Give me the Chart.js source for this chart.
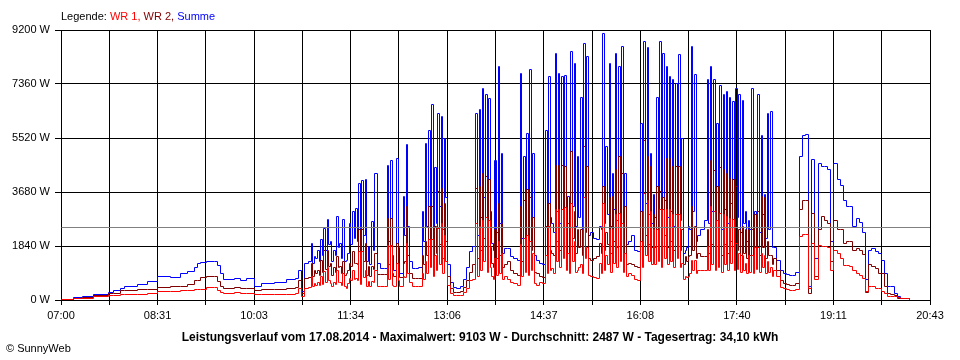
<!DOCTYPE html>
<html>
<head>
<meta charset="utf-8">
<script src="https://cdn.jsdelivr.net/npm/chart.js@4/dist/chart.umd.min.js"></script>
<style>
  body { margin: 0; background: #fff; }
  #wrap { position: relative; width: 960px; height: 360px; font-family: "Liberation Sans", Arial, sans-serif; }
  #chart { position: absolute; left: 0; top: 0; }
  .legende { position: absolute; left: 61px; top: 10px; font-size: 11px; line-height: 13px; color: #000; }
  .caption { position: absolute; left: 0; width: 960px; top: 330px; text-align: center; font-size: 12px; line-height: 14px; font-weight: bold; color: #000; }
  .copy { position: absolute; left: 6px; top: 342px; font-size: 11px; line-height: 13px; color: #000; }
</style>
</head>
<body>
<div id="wrap">
  <canvas id="chart" width="960" height="360"></canvas>
  <div class="legende">Legende: <span style="color:#ff0000">WR 1,</span> <span style="color:#800000">WR 2,</span> <span style="color:#0000ff">Summe</span></div>
  <div class="caption">Leistungsverlauf vom 17.08.2014 - Maximalwert: 9103 W - Durchschnitt: 2487 W - Tagesertrag: 34,10 kWh</div>
  <div class="copy">&copy; SunnyWeb</div>
</div>
<script>
// x tick labels (every second grid line), times are minutes after 07:00
var xLabels = ['07:00', '08:31', '10:03', '11:34', '13:06', '14:37', '16:08', '17:40', '19:11', '20:43'];
var xSpan = 823;      // 07:00 -> 20:43
var yMax = 9200;
var yStep = 1840;
var average = 2487;   // Durchschnitt

var minutes = [
  0, 12, 20, 31, 45, 50, 56, 60, 72, 82, 91, 104, 113, 120, 126, 129, 132, 138, 145, 148, 151, 154, 164, 170, 176, 183, 190, 202, 214, 222,
  225, 228, 231, 234, 237, 238.5, 240, 241.5, 243, 244.5, 246, 247.5, 249, 250.5, 252, 253.5, 255, 256.5, 258, 259.5, 261, 262.5, 264, 265.5, 267, 268.5, 270, 271.5, 273, 274.5, 276, 277.5, 279, 280.5, 282, 283.5, 285, 286.5, 288, 289.5, 291, 292.5, 294, 295.5, 297, 300, 303, 306, 309, 310.5, 312, 313.5, 315, 318, 319.5, 321, 324, 325.5, 327, 328.5, 330, 333, 336, 339,
  342, 343.5, 345, 346.5, 348, 349.5, 351, 352.5, 354, 355.5, 357, 358.5, 360, 361.5, 363, 364.5, 366, 369, 372, 375, 378, 381, 384, 387, 390, 393, 394.5, 396, 397.5, 399, 400.5, 402, 403.5, 405, 406.5, 408, 409.5, 411, 412.5, 414, 415.5, 417, 418.5, 420, 423, 426, 429, 432, 435, 436.5, 438, 439.5, 441, 442.5, 444, 445.5, 447, 448.5, 450, 453, 456, 459, 460.5, 462,
  463.5, 465, 466.5, 468, 469.5, 471, 472.5, 474, 475.5, 477, 478.5, 480, 481.5, 483, 484.5, 486, 487.5, 489, 490.5, 492, 493.5, 495, 496.5, 498, 499.5, 501, 504, 507, 510, 511.5, 513, 514.5, 516, 517.5, 519, 520.5, 522, 523.5, 525, 526.5, 528, 529.5, 531, 532.5, 534, 535.5, 537, 540, 543, 546, 549, 550.5, 552, 553.5, 555, 556.5, 558, 559.5, 561, 562.5, 564, 565.5, 567, 568.5, 570, 571.5, 573, 574.5, 576, 577.5, 579, 580.5, 582, 583.5, 585, 586.5,
  588, 589.5, 591, 592.5, 594, 595.5, 597, 598.5, 600, 601.5, 603, 606, 609, 612, 613.5, 615, 616.5, 618, 619.5, 621, 622.5, 624, 625.5, 627, 628.5, 630, 631.5, 633, 634.5, 636, 637.5, 639, 640.5, 642, 643.5, 645, 646.5, 648, 649.5, 651, 652.5, 654, 655.5, 657, 658.5, 660, 661.5, 663, 664.5, 666, 667.5, 669, 670.5, 672, 673.5, 675, 678, 681, 684, 687, 690, 693, 696, 699, 702, 705, 708,
  711, 714, 717, 720, 723, 726, 729, 732, 735, 738, 741, 744, 747, 750, 753, 756, 759, 762, 765, 768, 771, 774, 777, 780, 783, 786, 789, 792, 795, 798, 801, 804
];

var summe = [
  25, 90, 136, 193, 250, 318, 398, 477, 545, 625, 795, 760, 909, 988, 1113, 1227, 1272, 1318, 1318, 1159, 909, 682, 716, 648, 716, 477, 568, 590, 682, 738,
  1020, 300, 1250, 1300, 1930, 1250, 1480, 1400, 1700, 1300, 2070, 1500, 2420, 1700, 2726, 1900, 1990, 1300, 1700, 1500, 2840, 1800, 1930, 1400, 2750, 1300, 1360, 1600, 2590, 1900, 3010, 2100, 3124, 2000, 3976, 1500, 4067, 2200, 4100, 1300, 1820, 1200, 2670, 1700, 4294, 1250, 1080, 1080, 4600, 2000, 4737, 1500, 1022, 4828, 1800, 900, 3520, 2200, 5282, 2500, 1300, 1080, 1080, 1100,
  3000, 2000, 5340, 2500, 5790, 3000, 6645, 2200, 4500, 2600, 6360, 3200, 6250, 2400, 5500, 3500, 1200, 600, 420, 400, 470, 700, 1100, 1650, 1820, 6360, 2200, 6500, 2800, 7213, 3500, 7000, 2600, 6870, 3000, 1930, 1700, 4770, 2300, 7950, 2600, 5000, 1600, 1760, 1760, 1477, 1400, 1360, 7725, 2100, 4885, 2600, 5680, 2300, 7840, 2800, 5000, 1500, 1360, 1250, 1200, 5790, 2400, 7610,
  2800, 2600, 2300, 8400, 3000, 7725, 2600, 7610, 3400, 7650, 2500, 3520, 2300, 8460, 3200, 8060, 2500, 4900, 2800, 6900, 2400, 8750, 3600, 8300, 2200, 2300, 2100, 2045, 2500, 2400, 9090, 2600, 5225, 2900, 8060, 2500, 4300, 3100, 8400, 2700, 7950, 3300, 8630, 2500, 4300, 1900, 2000, 2200, 1700, 1650, 6000, 2600, 8800, 3300, 8600, 2900, 5000, 2600, 3600, 2800, 6900, 3100, 8800, 2600, 8400, 3400, 7950, 2800, 7600, 3000, 7500, 2500, 7384, 3300, 8350, 2700,
  5500, 1600, 1700, 1800, 2500, 2400, 8630, 3000, 7700, 2000, 2200, 2400, 2700, 7500, 2600, 7950, 3000, 7500, 2500, 6000, 2900, 7300, 2400, 6990, 3100, 7100, 2600, 6900, 3300, 6760, 2500, 7213, 2800, 7000, 2300, 6800, 2600, 3000, 2000, 2700, 2400, 7213, 2200, 3000, 2700, 7000, 2300, 5600, 2900, 3600, 2100, 6360, 2400, 6420, 1800, 1800, 1360, 1000, 900, 870, 850, 850, 950, 4885, 5620, 5650, 455,
  4800, 1400, 4650, 4540, 4540, 4430, 2000, 4650, 4090, 3900, 3400, 3180, 3180, 2500, 2780, 2640, 2300, 700, 1700, 1760, 1650, 1600, 1360, 900, 450, 455, 227, 114, 57, 57, 40, 0
];

var wr2 = [
  25, 60, 90, 170, 227, 227, 307, 307, 363, 363, 431, 454, 477, 534, 680, 680, 773, 795, 795, 625, 450, 397, 431, 375, 375, 340, 363, 363, 397, 420,
  680, 230, 740, 760, 1250, 800, 1020, 900, 1020, 850, 1360, 950, 1700, 1050, 1700, 1150, 1250, 850, 1100, 950, 1480, 1100, 1150, 900, 1300, 850, 909, 1000, 1250, 1150, 1650, 1250, 1250, 1200, 2386, 950, 2386, 1300, 1930, 850, 1136, 800, 1136, 1050, 1590, 852, 852, 852, 2783, 1200, 2783, 900, 795, 1930, 1100, 750, 1250, 1300, 3180, 1500, 900, 738, 738, 738,
  1500, 1200, 2000, 1500, 3180, 1800, 3180, 1300, 2500, 1600, 3700, 1900, 3800, 1400, 3300, 2000, 800, 380, 270, 250, 290, 420, 650, 950, 1200, 3800, 1400, 3860, 1700, 4300, 2100, 4200, 1600, 4100, 1800, 1250, 1100, 2400, 1400, 3300, 1500, 2600, 1100, 1200, 1300, 1022, 900, 850, 3200, 1300, 3400, 1600, 3750, 1400, 3500, 1700, 2800, 950, 900, 800, 750, 2500, 1500, 3300,
  1700, 1600, 1500, 4600, 2000, 4600, 1700, 4600, 2200, 4550, 1600, 2600, 1500, 5055, 2100, 3000, 1600, 2400, 1800, 2400, 1500, 5225, 2300, 4540, 1400, 1360, 1400, 1480, 1930, 1600, 3860, 1700, 2300, 1900, 3500, 1600, 3520, 2000, 4430, 1800, 4880, 2200, 4300, 1600, 3200, 1200, 1250, 1200, 1150, 1100, 3000, 1700, 5450, 2200, 4900, 1900, 4550, 1800, 2900, 1800, 3860, 2000, 3700, 1700, 3500, 2200, 4830, 1800, 4830, 2000, 4540, 1700, 4540, 2100, 4540, 1700,
  2400, 1200, 1480, 1300, 1480, 1500, 3180, 1700, 2500, 1400, 1600, 1480, 1480, 2400, 1600, 4770, 1900, 4400, 1600, 3860, 1800, 4500, 1500, 4430, 1900, 4317, 1600, 4150, 2000, 4090, 1600, 3860, 1700, 2400, 1500, 2500, 1600, 2400, 1400, 2400, 1500, 2400, 1400, 2900, 1700, 3000, 1500, 3520, 1800, 3500, 1400, 2000, 1500, 1500, 1200, 1400, 1020, 650, 560, 520, 510, 510, 560, 3070, 3400, 3400, 230,
  2950, 800, 2400, 2840, 2700, 2600, 1300, 2700, 2400, 2400, 1930, 2000, 1990, 1700, 1750, 1700, 1550, 250, 1200, 1150, 1080, 909, 909, 454, 227, 200, 170, 60, 57, 57, 40, 0
];

var wr1 = [
  25, 40, 57, 114, 159, 159, 193, 193, 200, 227, 284, 284, 307, 307, 363, 363, 363, 430, 420, 330, 250, 227, 261, 227, 227, 182, 182, 182, 182, 205,
  400, 110, 400, 420, 795, 450, 570, 500, 600, 480, 800, 520, 965, 580, 1100, 650, 570, 470, 600, 520, 1022, 600, 600, 480, 900, 450, 400, 550, 740, 650, 1020, 700, 740, 680, 1650, 520, 1650, 750, 1022, 470, 625, 450, 625, 580, 1022, 454, 454, 454, 1874, 700, 1874, 500, 454, 1250, 650, 454, 795, 750, 1930, 900, 600, 454, 454, 454,
  900, 700, 1300, 900, 2045, 1100, 2045, 800, 1500, 1000, 2440, 1200, 2600, 900, 2200, 1300, 500, 230, 150, 140, 170, 260, 400, 650, 700, 2600, 800, 2500, 1000, 2700, 1300, 2800, 950, 2700, 1100, 800, 700, 1400, 850, 2000, 900, 1600, 700, 800, 700, 600, 550, 500, 1900, 800, 2100, 950, 2200, 850, 2000, 1000, 1600, 550, 500, 600, 550, 1500, 900, 2500,
  1000, 1080, 900, 3070, 1300, 3070, 1100, 3070, 1400, 3150, 1000, 1600, 900, 3300, 1300, 2000, 950, 1020, 1100, 1200, 900, 3500, 1400, 1800, 850, 795, 760, 740, 1250, 900, 3300, 1000, 1500, 1200, 2400, 950, 2400, 1250, 2900, 1100, 2950, 1300, 2600, 950, 1600, 800, 900, 850, 700, 680, 2000, 1100, 3630, 1500, 3400, 1300, 3000, 1200, 2400, 1200, 2400, 1300, 3070, 1100, 3070, 1400, 3070, 1200, 3070, 1300, 2900, 1100, 2900, 1400, 2900, 1100,
  1250, 700, 795, 750, 795, 900, 1360, 1000, 1360, 900, 1020, 1020, 1020, 1820, 1000, 3180, 1200, 3000, 1000, 2700, 1100, 2950, 950, 2900, 1200, 2840, 1000, 2780, 1250, 2726, 1000, 1930, 1050, 1600, 950, 1500, 1000, 1250, 900, 1500, 950, 1500, 900, 1800, 1050, 1800, 950, 1600, 1100, 1500, 900, 1300, 950, 1100, 800, 1020, 795, 420, 380, 350, 340, 340, 360, 2160, 2215, 2215, 400,
  1930, 700, 1870, 1820, 1820, 1800, 1000, 1700, 1590, 1400, 1190, 1190, 1150, 1022, 900, 850, 740, 300, 454, 454, 400, 400, 300, 227, 114, 114, 114, 80, 57, 57, 40, 0
];

function pts(arr) {
  return arr.map(function (v, i) { return { x: minutes[i], y: v }; });
}

// put the 1px lines on whole pixels so they stay crisp like the original
var snapPlugin = {
  id: 'snap',
  afterDatasetsUpdate: function (chart) {
    chart.data.datasets.forEach(function (ds, i) {
      chart.getDatasetMeta(i).data.forEach(function (p) {
        p.x = Math.round(p.x - 0.5) + 0.5;
        p.y = Math.round(p.y - 0.5) + 0.5;
      });
    });
  }
};

Chart.defaults.font.family = '"Liberation Sans", Arial, sans-serif';
Chart.defaults.font.size = 11;
Chart.defaults.color = '#000';

var ctx = document.getElementById('chart').getContext('2d');
var chart = new Chart(ctx, {
    type: 'line',
    plugins: [snapPlugin],
    data: {
        datasets: [
            {
                label: 'Durchschnitt',
                data: [{ x: 0, y: average }, { x: xSpan, y: average }],
                borderColor: '#808080',
                borderWidth: 1,
                pointRadius: 0
            },
            {
                label: 'WR 1',
                data: pts(wr1),
                borderColor: '#ff0000',
                borderWidth: 1,
                stepped: true,
                pointRadius: 0
            },
            {
                label: 'WR 2',
                data: pts(wr2),
                borderColor: '#800000',
                borderWidth: 1,
                stepped: true,
                pointRadius: 0
            },
            {
                label: 'Summe',
                data: pts(summe),
                borderColor: '#0000ff',
                borderWidth: 1,
                stepped: true,
                pointRadius: 0
            }
        ]
    },
    options: {
        responsive: false,
        animation: false,
        layout: { padding: { top: 30, right: 30, left: 0, bottom: 0 } },
        plugins: { legend: { display: false }, tooltip: { enabled: false } },
        scales: {
            x: {
                type: 'linear',
                min: 0,
                max: xSpan,
                z: 1,
                afterBuildTicks: function (s) {
                    var t = [];
                    for (var i = 0; i <= 18; i++) t.push({ value: i * xSpan / 18 });
                    s.ticks = t;
                },
                afterFit: function (s) { s.height = 60; },
                ticks: {
                    autoSkip: false,
                    maxRotation: 0,
                    padding: 4,
                    callback: function (v, i) { return i % 2 === 0 ? xLabels[i / 2] : ''; }
                },
                grid: { color: '#000', lineWidth: 1, tickLength: 5 },
                border: { color: '#000' }
            },
            y: {
                min: 0,
                max: yMax,
                z: 1,
                afterFit: function (s) { s.width = 61; },
                ticks: {
                    stepSize: yStep,
                    padding: 5,
                    callback: function (v) { return v + ' W'; }
                },
                grid: { color: '#000', lineWidth: 1, tickLength: 6 },
                border: { color: '#000' }
            }
        }
    }
});
</script>
</body>
</html>
